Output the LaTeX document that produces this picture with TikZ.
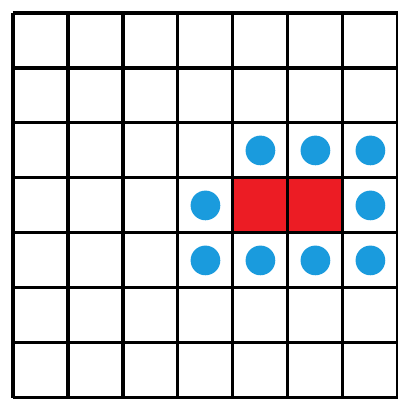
\documentclass[tikz,border=0pt]{standalone}
\usepackage{xcolor}
\usepackage{tikz}
\usetikzlibrary{positioning, backgrounds}
\definecolor{CellRed}{HTML}{EC1C24}
\definecolor{DotBlue}{HTML}{1A9BDD}

\begin{document}
\begin{tikzpicture}[
  hit/.style={rectangle, fill=CellRed, draw=none, minimum size=1cm, inner sep=0pt},
  dot/.style={circle, fill=DotBlue, draw=none, minimum size=0.54cm, inner sep=0pt},
  gridline/.style={line width=1.6pt, black}
]
\useasboundingbox (-0.236,-0.02) rectangle (7.0,7.236);
\node[hit] (h1) at (4.5,3.5) {};
\node[hit] (h2) at (5.5,3.5) {};
\draw[gridline] (0,0) grid (7,7);
\node[dot] (d1) at (4.5,4.5) {};
\node[dot] (d2) at (5.5,4.5) {};
\node[dot] (d3) at (6.5,4.5) {};
\node[dot] (d4) at (3.5,3.5) {};
\node[dot] (d5) at (6.5,3.5) {};
\node[dot] (d6) at (3.5,2.5) {};
\node[dot] (d7) at (4.5,2.5) {};
\node[dot] (d8) at (5.5,2.5) {};
\node[dot] (d9) at (6.5,2.5) {};
\end{tikzpicture}
\end{document}
